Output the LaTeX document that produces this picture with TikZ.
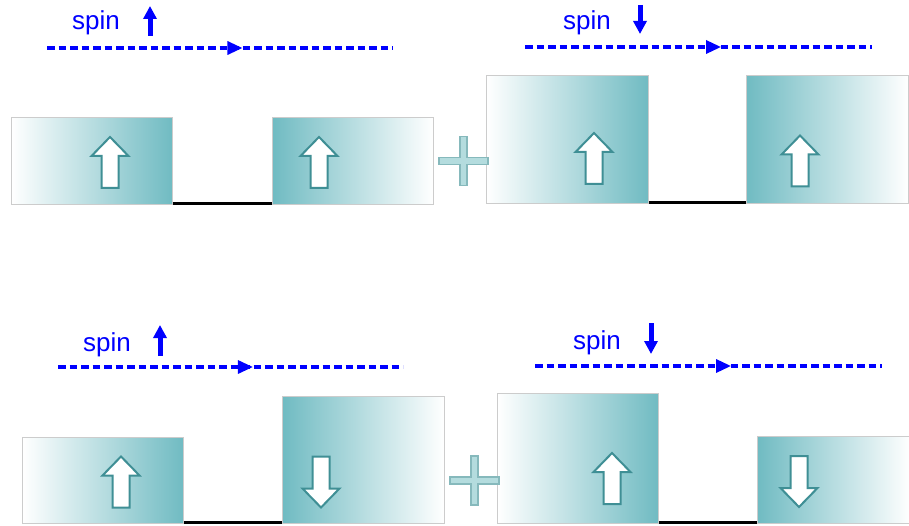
\documentclass[tikz,border=0pt]{standalone}
\usepackage{fontspec}
\setmainfont{Liberation Sans}
\usetikzlibrary{arrows.meta,decorations.markings}
\definecolor{teal1}{HTML}{70BBC2}
\definecolor{arrline}{HTML}{3F8F95}
\definecolor{plusfill}{HTML}{B4DCDE}
\definecolor{plusline}{HTML}{86B9BC}
\definecolor{boxline}{HTML}{CCCCCC}
\begin{document}
\begin{tikzpicture}[x=1pt,y=-1pt,
  boxL/.style={draw=boxline,line width=0.8pt,left color=white,right color=teal1,anchor=north west,inner sep=0pt},
  boxR/.style={draw=boxline,line width=0.8pt,left color=teal1,right color=white,anchor=north west,inner sep=0pt},
  gapline/.style={line width=3pt,black},
  spinline/.style={blue,line width=3.2pt,dash pattern=on 7.5pt off 4pt,postaction={decorate},
    decoration={markings,mark=at position 0.565 with {\arrow{Triangle[length=15pt,width=13pt]}}}},
  spinarr/.style={blue,line width=5pt,-{Triangle[length=13pt,width=13pt]}},
  spintext/.style={blue,anchor=base west,inner sep=0pt,font=\fontsize{26pt}{30pt}\selectfont},
  hollow/.style={draw=arrline,fill=white,line width=2pt,line join=miter},
  plusst/.style={draw=plusline,fill=plusfill,line width=1.2pt},
  uparrow/.pic={\draw[hollow] (0,-25.5) -- (18.5,-6.5) -- (8.5,-6.5) -- (8.5,25.5) -- (-8.5,25.5) -- (-8.5,-6.5) -- (-18.5,-6.5) -- cycle;},
  downarrow/.pic={\draw[hollow] (0,25.5) -- (18.5,6.5) -- (8.5,6.5) -- (8.5,-25.5) -- (-8.5,-25.5) -- (-8.5,6.5) -- (-18.5,6.5) -- cycle;},
  plussign/.pic={\draw[plusst] (-3.5,-24.5) -- (3.5,-24.5) -- (3.5,-3.5) -- (24.5,-3.5) -- (24.5,3.5) -- (3.5,3.5) -- (3.5,24.5) -- (-3.5,24.5) -- (-3.5,3.5) -- (-24.5,3.5) -- (-24.5,-3.5) -- (-3.5,-3.5) -- cycle;}
]
\useasboundingbox (0,0) rectangle (909,526);

% ---------- panel 1 (top left) ----------
\node (t1) [spintext] at (72,30) {spin};
\coordinate (s1a) at (150,36); \coordinate (s1b) at (150,6);
\draw[spinarr] (s1a) -- (s1b);
\coordinate (d1a) at (47,48); \coordinate (d1b) at (393,48);
\draw[spinline] (d1a) -- (d1b);
\node (b1l) [boxL,minimum width=161pt,minimum height=87pt] at (11,117) {};
\node (b1r) [boxR,minimum width=161pt,minimum height=87pt] at (272,117) {};
\draw[gapline] ([yshift=1.5pt]b1l.south east) -- ([yshift=1.5pt]b1r.south west);
\pic at (110,162.5) {uparrow};
\pic at (319,162.5) {uparrow};

% ---------- panel 2 (top right) ----------
\node (t2) [spintext] at (563,29.5) {spin};
\coordinate (s2a) at (640,5); \coordinate (s2b) at (640,34);
\draw[spinarr] (s2a) -- (s2b);
\coordinate (d2a) at (525,47); \coordinate (d2b) at (872,47);
\draw[spinline] (d2a) -- (d2b);
\node (b2l) [boxL,minimum width=162pt,minimum height=128pt] at (486,75) {};
\node (b2r) [boxR,minimum width=162pt,minimum height=128pt] at (746,75) {};
\draw[gapline] ([yshift=1.5pt]b2l.south east) -- ([yshift=1.5pt]b2r.south west);
\pic at (594,158.5) {uparrow};
\pic at (800,161) {uparrow};
\pic at (463.5,161) {plussign};

% ---------- panel 3 (bottom left) ----------
\node (t3) [spintext] at (83,351) {spin};
\coordinate (s3a) at (160,356); \coordinate (s3b) at (160,325);
\draw[spinarr] (s3a) -- (s3b);
\coordinate (d3a) at (58,367); \coordinate (d3b) at (403,367);
\draw[spinline] (d3a) -- (d3b);
\node (b3l) [boxL,minimum width=161pt,minimum height=86pt] at (22,437) {};
\node (b3r) [boxR,minimum width=162pt,minimum height=127pt] at (282,396) {};
\draw[gapline] ([yshift=1.5pt]b3l.south east) -- ([yshift=1.5pt]b3r.south west);
\pic at (121,482) {uparrow};
\pic at (321,482) {downarrow};

% ---------- panel 4 (bottom right) ----------
\node (t4) [spintext] at (573,349.5) {spin};
\coordinate (s4a) at (651,323); \coordinate (s4b) at (651,354);
\draw[spinarr] (s4a) -- (s4b);
\coordinate (d4a) at (535,366); \coordinate (d4b) at (882,366);
\draw[spinline] (d4a) -- (d4b);
\node (b4l) [boxL,minimum width=161pt,minimum height=130pt] at (497,393) {};
\node (b4r) [boxR,minimum width=153pt,minimum height=87pt] at (757,436) {};
\draw[gapline] ([yshift=1.5pt]b4l.south east) -- ([yshift=1.5pt]b4r.south west);
\pic at (612,478.5) {uparrow};
\pic at (799,481.5) {downarrow};
\pic at (474.5,480.5) {plussign};
\end{tikzpicture}
\end{document}
